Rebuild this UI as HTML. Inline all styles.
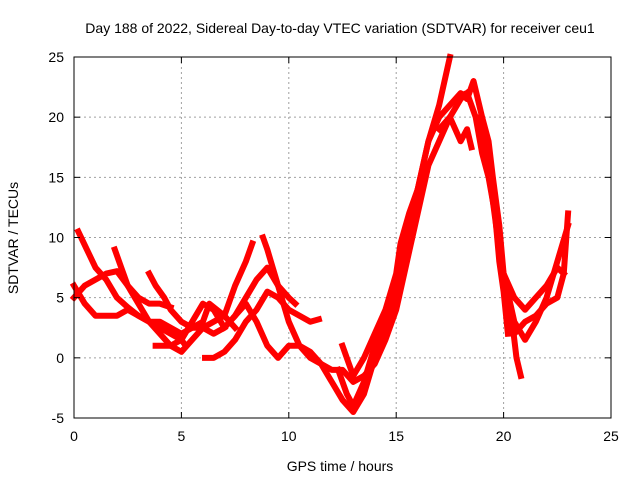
<!DOCTYPE html>
<html><head><meta charset="utf-8"><style>
body{margin:0;background:#fff}
svg{display:block;font-family:"Liberation Sans",sans-serif}
</style></head><body>
<svg id="chart" width="640" height="480">
<text x="340" y="33" text-anchor="middle" font-size="14">Day 188 of 2022, Sidereal Day-to-day VTEC variation (SDTVAR) for receiver ceu1</text>
<text x="340" y="471" text-anchor="middle" font-size="14">GPS time / hours</text>
<text transform="translate(18,238) rotate(-90)" text-anchor="middle" font-size="14">SDTVAR / TECUs</text>
<g id="grid"></g><g id="series"></g><g id="axes"></g>
</svg>
<script>
const xTicks=[0,5,10,15,20,25];
const yTicks=[-5,0,5,10,15,20,25];
const trackA=[[0.2,10.5],[0.6,9],[1,7.5],[1.5,6.5],[2,5],[2.5,4.2],[3,3.5],[3.5,3],[4,3],[4.5,2.5],[5,2],[5.5,2.5],[6,2.5],[6.5,3],[7,3.5],[7.5,6],[8,8],[8.3,9.5]];
const trackB=[[0,5],[0.5,6],[1,6.5],[1.5,7],[2,7.2],[2.5,6],[3,5],[3.5,4.5],[4,4.5],[4.5,4.2]];
const trackC=[[0,6],[0.5,4.5],[1,3.5],[1.5,3.5],[2,3.5],[2.5,4],[3,3.5],[3.5,3],[4,2.5],[4.5,2],[5,1.5],[5.2,1]];
const trackD=[[1.9,9],[2.2,7.5],[2.5,6],[3,4.5],[3.5,3],[4,2],[4.5,1],[5,0.5],[5.5,1.5],[6,2.5],[6.5,2],[7,2.5],[7.5,3.5],[8,5],[8.5,6.5],[9,7.5],[9.5,6],[10,5],[10.3,4.5]];
const trackE=[[3.5,7],[3.8,6],[4.2,5],[4.5,4],[5,3],[5.5,2.5],[6,3],[6.3,4.5],[7,3.5],[7.5,2.5]];
const trackF=[[3.8,1],[4.5,1],[5,1.5],[5.5,3],[6,4.5],[6.5,4],[7,2.5]];
const trackG=[[6.1,0],[6.5,0],[7,0.5],[7.5,1.5],[8,3],[8.5,4],[9,5.5],[9.5,5],[10,4],[10.5,3.5],[11,3],[11.4,3.2]];
const trackH=[[7.5,3.5],[8,4.5],[8.5,3],[9,1],[9.5,0],[10,1],[10.5,1],[11,0],[11.5,-0.5],[12,-2],[12.5,-3.5],[13,-4.5],[13.5,-3],[14,0],[14.5,2],[15,5],[15.5,9],[16,14],[16.5,18],[17,21],[17.5,25]];
const trackI=[[8.8,10],[9,9],[9.5,6],[10,3],[10.5,1],[11,0.5],[11.5,-0.5],[12,-1],[12.5,-1],[13,-2],[13.5,-1.5],[14,-0.5],[14.5,1.5],[15,4],[15.5,8],[16,12],[16.5,16],[17,18],[17.5,20],[18,21.5],[18.3,22]];
const trackJ=[[12.3,-1],[12.7,-3],[13,-4],[13.5,-2],[14,1],[14.5,3],[15,6],[15.5,10],[16,14],[16.5,18],[17,20],[17.5,21],[18,22],[18.3,21.5],[18.6,23],[19,20],[19.3,18],[19.5,15],[19.8,11],[20,7],[20.5,3],[21,1.5],[21.5,3],[22,5],[22.5,8],[23,11]];
const trackK=[[12.5,1],[12.7,0],[13,-1.5],[13.5,0],[14,2],[14.5,4],[15,7],[15.2,9.5],[15.6,12],[16,14],[16.3,15.5]];
const trackL=[[18.3,22],[18.7,20],[19,17],[19.3,15],[19.6,12],[19.8,8],[20,5.5],[20.2,2]];
const trackM=[[18.9,20],[19.2,17],[19.5,13],[19.8,9],[20.1,6],[20.4,3],[20.6,0],[20.8,-1.5]];
const trackN=[[20,7],[20.5,5],[21,4],[21.5,5],[22,6],[22.5,7.5],[22.8,7]];
const trackO=[[20.5,2],[21,3],[21.5,3.5],[22,4.5],[22.5,5],[22.8,7],[23,12]];
const trackP=[[17,19],[17.5,20],[18,18],[18.3,19],[18.5,17.5]];
const tracks=[trackA,trackB,trackC,trackD,trackE,trackF,trackG,trackH,trackI,trackJ,trackK,trackL,trackM,trackN,trackO,trackP];

const X0=74,X1=611,Y0=418,Y1=57;
const xs=v=>X0+(v-0)/25*(X1-X0);
const ys=v=>Y0-(v+5)/30*(Y0-Y1);
const NS='http://www.w3.org/2000/svg';
function mk(t,a,p){const e=document.createElementNS(NS,t);for(const k in a)e.setAttribute(k,a[k]);p.appendChild(e);return e;}
const grid=document.getElementById('grid'),axes=document.getElementById('axes'),series=document.getElementById('series');
xTicks.forEach(t=>{
  const x=xs(t);
  if(t>0&&t<25){const g=mk('line',{x1:x,x2:x,y1:Y1,y2:Y0,stroke:'#a0a0a0','stroke-dasharray':'2,3'},grid);
  
  }
  mk('line',{x1:x,x2:x,y1:Y0,y2:Y0-6,stroke:'#000'},axes);
  mk('line',{x1:x,x2:x,y1:Y1,y2:Y1+6,stroke:'#000'},axes);
  const l=mk('text',{x:x,y:Y0+23,'text-anchor':'middle','font-size':14},axes);l.textContent=t;
  
  
});
yTicks.forEach(t=>{
  const y=ys(t);
  if(t>-5&&t<25){const g=mk('line',{x1:X0,x2:X1,y1:y,y2:y,stroke:'#a0a0a0','stroke-dasharray':'2,3'},grid);
  
  }
  mk('line',{x1:X0,x2:X0+6,y1:y,y2:y,stroke:'#000'},axes);
  mk('line',{x1:X1,x2:X1-6,y1:y,y2:y,stroke:'#000'},axes);
  const l=mk('text',{x:X0-10,y:y+5,'text-anchor':'end','font-size':14},axes);l.textContent=t;
  
  
});
const fr=mk('rect',{x:X0,y:Y1,width:X1-X0,height:Y0-Y1,fill:'none',stroke:'#000'},axes);


tracks.forEach(tr=>{
  const p=mk('polyline',{points:tr.map(d=>xs(d[0])+','+ys(d[1])).join(' '),fill:'none',stroke:'#ff0000','stroke-width':6,'stroke-linejoin':'round','stroke-linecap':'square'},series);
  
  
});
</script>
</body></html>
